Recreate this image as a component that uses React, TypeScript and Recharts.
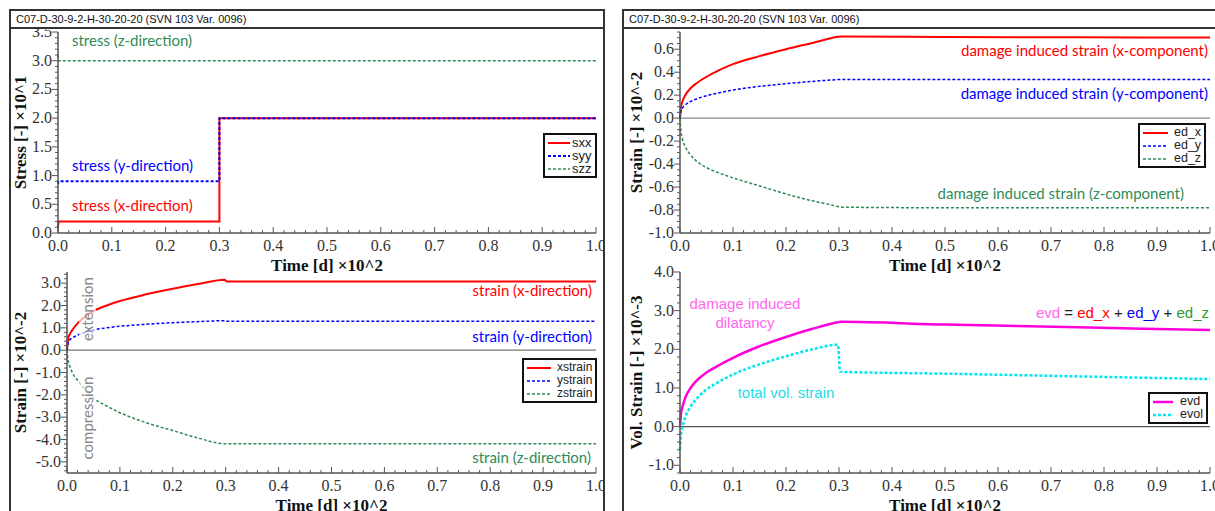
import React from "react";
import { LineChart, Line, XAxis, YAxis, ReferenceLine, Legend } from "recharts";

// time in units of 10^2 d
const stressTime = [0, 0.001, 0.3, 0.3, 1.0];
const sxx = [0.1, 0.2, 0.2, 2.0, 2.0];
const syy = [0.85, 0.9, 0.9, 2.0, 2.0];
const szz = [3.1, 3.0, 3.0, 3.0, 3.0];

const time = [0, 0.002, 0.005, 0.01, 0.02, 0.03, 0.05, 0.075, 0.1, 0.15, 0.2, 0.25, 0.298, 0.302, 0.5, 0.75, 1.0];
const xstrain = [0, 0.5, 0.7, 0.9, 1.2, 1.42, 1.75, 2.0, 2.2, 2.5, 2.75, 2.97, 3.15, 3.08, 3.07, 3.07, 3.07];
const ystrain = [0, 0.3, 0.45, 0.55, 0.67, 0.76, 0.9, 1.0, 1.07, 1.16, 1.23, 1.28, 1.32, 1.3, 1.29, 1.29, 1.29];
const zstrain = [0, -0.45, -0.7, -1.0, -1.35, -1.65, -2.15, -2.5, -2.8, -3.25, -3.6, -3.95, -4.19, -4.19, -4.19, -4.19, -4.19];

const edX = [0, 0.1, 0.15, 0.2, 0.26, 0.3, 0.36, 0.42, 0.47, 0.54, 0.6, 0.655, 0.708, 0.711, 0.707, 0.704, 0.702];
const edY = [0, 0.06, 0.09, 0.115, 0.145, 0.165, 0.195, 0.222, 0.245, 0.277, 0.3, 0.32, 0.336, 0.337, 0.337, 0.337, 0.337];
const edZ = [0, -0.12, -0.19, -0.25, -0.32, -0.37, -0.43, -0.48, -0.52, -0.59, -0.66, -0.72, -0.77, -0.775, -0.78, -0.78, -0.78];

const evd = [0, 0.35, 0.53, 0.75, 1.0, 1.17, 1.4, 1.6, 1.78, 2.08, 2.32, 2.53, 2.7, 2.71, 2.64, 2.57, 2.5];
const evol = [-0.6, -0.2, 0.0, 0.25, 0.52, 0.7, 0.96, 1.17, 1.35, 1.61, 1.82, 2.0, 2.12, 1.42, 1.37, 1.3, 1.23];

const timeTicks = [0, 0.1, 0.2, 0.3, 0.4, 0.5, 0.6, 0.7, 0.8, 0.9, 1.0];
const stressTicks = [0, 0.5, 1.0, 1.5, 2.0, 2.5, 3.0, 3.5];
const strainTicks = [-5, -4, -3, -2, -1, 0, 1, 2, 3];
const damageTicks = [-1.0, -0.8, -0.6, -0.4, -0.2, 0, 0.2, 0.4, 0.6];
const volTicks = [-1, 0, 1, 2, 3, 4];

const TITLE = "C07-D-30-9-2-H-30-20-20 (SVN 103 Var. 0096)";
const SERIF = "'Liberation Serif', 'Times New Roman', serif";
const SANS = "'Liberation Sans', Arial, sans-serif";
const CAL = "Lato, 'Open Sans', sans-serif";

const RED = "#ff0000";
const BLUE = "#0000ff";
const GREEN = "#2e8b57";
const MAGENTA = "#ff00dd";
const CYAN = "#00e6ef";

// minor tick positions between lo and hi
function steps(lo: number, hi: number, step: number) {
  const out: number[] = [];
  const n = Math.round((hi - lo) / step);
  for (let i = 0; i <= n; i++) out.push(+(lo + i * step).toFixed(4));
  return out;
}

const isMajor = (majors: number[], v: number) => majors.some((m) => Math.abs(m - v) < 1e-6);

const makeXTick = (majors: number[]) => (p: any) => {
  const v = p.payload.value;
  const big = isMajor(majors, v);
  return (
    <g>
      <line x1={p.x} x2={p.x} y1={p.y} y2={p.y - (big ? 6 : 3)} stroke="#555" />
      {big && (
        <text x={p.x} y={p.y + 18} textAnchor="middle" fontFamily={SERIF} fontSize={16} fill="#333">
          {v.toFixed(1)}
        </text>
      )}
    </g>
  );
};

const makeYTick = (majors: number[]) => (p: any) => {
  const v = p.payload.value;
  const big = isMajor(majors, v);
  return (
    <g>
      <line x1={p.x - (big ? 6 : 3)} x2={p.x} y1={p.y} y2={p.y} stroke="#555" />
      {big && (
        <text x={p.x - 6} y={p.y + 5} textAnchor="end" fontFamily={SERIF} fontSize={16} fill="#333">
          {v.toFixed(1)}
        </text>
      )}
    </g>
  );
};

const yTitle = (text: string, dx: number) => (p: any) => {
  const vb = p.viewBox;
  const cx = vb.x + dx;
  const cy = vb.y + vb.height / 2;
  return (
    <text x={cx} y={cy} transform={`rotate(-90 ${cx} ${cy})`} textAnchor="middle" dominantBaseline="central"
      fontFamily={SERIF} fontWeight="bold" fontSize={17} fill="#111">
      {text}
    </text>
  );
};

const xTitle = (p: any) => {
  const vb = p.viewBox;
  return (
    <text x={vb.x + vb.width / 2} y={vb.y + 38} textAnchor="middle" fontFamily={SERIF} fontWeight="bold" fontSize={17} fill="#111">
      Time [d] ×10^2
    </text>
  );
};

const legendBox = (lineW: number, textGap: number, fs: number) => (p: any) => (
  <div style={{ border: "2px solid #111", background: "#fff", padding: "1px 3px 1px 3px", fontFamily: SANS, fontSize: fs, lineHeight: "13px", color: "#222" }}>
    {(p.payload || []).map((e: any) => (
      <div key={e.value} style={{ display: "flex", alignItems: "center" }}>
        <svg width={lineW} height={8}>
          <line x1={0} x2={lineW} y1={4} y2={4} stroke={e.color}
            strokeWidth={e.payload?.strokeWidth ?? 1.5} strokeDasharray={e.payload?.strokeDasharray} />
        </svg>
        <span style={{ marginLeft: textGap }}>{e.value}</span>
      </div>
    ))}
  </div>
);

const axisLine = { stroke: "#555", strokeWidth: 1.5 };

const stressData = stressTime.map((t, i) => ({ t, sxx: sxx[i], syy: syy[i], szz: szz[i] }));
const strainData = time.map((t, i) => ({ t, xstrain: xstrain[i], ystrain: ystrain[i], zstrain: zstrain[i] }));
const damageData = time.map((t, i) => ({ t, ed_x: edX[i], ed_y: edY[i], ed_z: edZ[i] }));
const volData = time.map((t, i) => ({ t, evd: evd[i], evol: evol[i] }));

const xTickList = steps(0, 1, 0.02);

function Panel({ left, width }: { left: number; width: number }) {
  return (
    <div style={{ position: "absolute", left, top: 9, width, height: 520, border: "2px solid #333", boxSizing: "border-box" }}>
      <div style={{ height: 16, borderBottom: "2px solid #333", fontFamily: SANS, fontSize: 11, lineHeight: "16px", paddingLeft: 5, color: "#111" }}>
        {TITLE}
      </div>
    </div>
  );
}

function XAx() {
  return (
    <XAxis dataKey="t" type="number" domain={[0, 1]} ticks={xTickList} interval={0} tick={makeXTick(timeTicks)}
      tickSize={0} tickMargin={0} tickLine={false} axisLine={axisLine} height={44} label={xTitle} />
  );
}

type Note = { x: number; y: number; text: React.ReactNode; color: string; anchor?: string; font?: string; size?: number };

const notes: Note[] = [
  { x: 72, y: 46, text: "stress (z-direction)", color: GREEN },
  { x: 72, y: 171, text: "stress (y-direction)", color: BLUE },
  { x: 72, y: 211, text: "stress (x-direction)", color: RED },
  { x: 592, y: 296, text: "strain (x-direction)", color: RED, anchor: "end" },
  { x: 592, y: 342, text: "strain (y-direction)", color: BLUE, anchor: "end" },
  { x: 591, y: 463, text: "strain (z-direction)", color: GREEN, anchor: "end" },
  { x: 1208, y: 56, text: "damage induced strain (x-component)", color: RED, anchor: "end" },
  { x: 1208, y: 99, text: "damage induced strain (y-component)", color: BLUE, anchor: "end" },
  { x: 1184, y: 199, text: "damage induced strain (z-component)", color: GREEN, anchor: "end" },
  { x: 745, y: 309, text: "damage induced", color: "#ff66ee", anchor: "middle", font: SANS },
  { x: 745, y: 328, text: "dilatancy", color: "#ff66ee", anchor: "middle", font: SANS },
  { x: 786, y: 398, text: "total vol. strain", color: "#22dde6", anchor: "middle", font: SANS },
];

function Overlay() {
  return (
    <svg width={1215} height={511} style={{ position: "absolute", left: 0, top: 0, pointerEvents: "none" }}>
      <rect x={79} y={272} width={17} height={74} fill="#fff" opacity={0.65} />
      <rect x={79} y={370} width={17} height={96} fill="#fff" opacity={0.65} />
      <text x={87} y={309} transform="rotate(-90 87 309)" textAnchor="middle" dominantBaseline="central" fontFamily={CAL} fontSize={15} fill="#888">extension</text>
      <text x={87} y={418} transform="rotate(-90 87 418)" textAnchor="middle" dominantBaseline="central" fontFamily={CAL} fontSize={15} fill="#888">compression</text>
      {notes.map((n, i) => (
        <text key={i} x={n.x} y={n.y} textAnchor={n.anchor || "start"} fontFamily={n.font || CAL} fontSize={n.size || 15} fill={n.color}>
          {n.text}
        </text>
      ))}
      <text x={1209} y={318} textAnchor="end" fontFamily={SANS} fontSize={15}>
        <tspan fill="#ff66ee">evd</tspan>
        <tspan fill="#222"> = </tspan>
        <tspan fill={RED}>ed_x</tspan>
        <tspan fill="#222"> + </tspan>
        <tspan fill={BLUE}>ed_y</tspan>
        <tspan fill="#222"> + </tspan>
        <tspan fill="#2e9a2e">ed_z</tspan>
      </text>
    </svg>
  );
}

export default function App() {
  return (
    <div style={{ position: "absolute", left: 0, top: 0, width: 1215, height: 511, overflow: "hidden", background: "#fff" }}>
      <Panel left={9} width={596} />
      <Panel left={622} width={600} />

      {/* left panel: stress */}
      <div style={{ position: "absolute", left: 11, top: 27, width: 593, height: 250, overflow: "hidden" }}>
        <LineChart width={600} height={250} data={stressData} margin={{ top: 5, right: 15, bottom: 0, left: 0 }}>
          {XAx()}
          <YAxis type="number" domain={[0, 3.5]} ticks={steps(0, 3.5, 0.1)} interval={0} tick={makeYTick(stressTicks)}
            tickSize={0} tickMargin={0} tickLine={false} axisLine={axisLine} width={47} label={yTitle("Stress [-] ×10^1", 9)} />
          <Line type="linear" dataKey="sxx" name="sxx" stroke={RED} strokeWidth={2} dot={false} isAnimationActive={false} />
          <Line type="linear" dataKey="syy" name="syy" stroke={BLUE} strokeWidth={2} strokeDasharray="3 2" dot={false} isAnimationActive={false} />
          <Line type="linear" dataKey="szz" name="szz" stroke={GREEN} strokeWidth={1.5} strokeDasharray="3 2" dot={false} isAnimationActive={false} />
          <Legend layout="vertical" align="center" verticalAlign="middle" content={legendBox(22, 2, 13)}
            itemSorter={null as any} wrapperStyle={{ left: 532, top: 106, width: "auto" }} />
        </LineChart>
      </div>

      {/* left panel: strain */}
      <div style={{ position: "absolute", left: 11, top: 262, width: 593, height: 255, overflow: "hidden" }}>
        <LineChart width={600} height={255} data={strainData} margin={{ top: 10, right: 15, bottom: 0, left: 0 }}>
          {XAx()}
          <YAxis type="number" domain={[-5.5, 3.5]} ticks={steps(-5.4, 3.4, 0.2)} interval={0} tick={makeYTick(strainTicks)}
            tickSize={0} tickMargin={0} tickLine={false} axisLine={axisLine} width={56} label={yTitle("Strain [-] ×10^-2", 9)} />
          <ReferenceLine y={0} stroke="#777" strokeWidth={1.2} />
          <Line type="monotone" dataKey="xstrain" name="xstrain" stroke={RED} strokeWidth={2} dot={false} isAnimationActive={false} />
          <Line type="monotone" dataKey="ystrain" name="ystrain" stroke={BLUE} strokeWidth={1.5} strokeDasharray="3 2" dot={false} isAnimationActive={false} />
          <Line type="monotone" dataKey="zstrain" name="zstrain" stroke={GREEN} strokeWidth={1.5} strokeDasharray="3 2" dot={false} isAnimationActive={false} />
          <Legend layout="vertical" align="center" verticalAlign="middle" content={legendBox(24, 6, 12)}
            itemSorter={null as any} wrapperStyle={{ left: 511, top: 96, width: "auto" }} />
        </LineChart>
      </div>

      {/* right panel: damage induced strain */}
      <div style={{ position: "absolute", left: 624, top: 27, width: 600, height: 250, overflow: "hidden" }}>
        <LineChart width={600} height={250} data={damageData} margin={{ top: 5, right: 14, bottom: 0, left: 0 }}>
          {XAx()}
          <YAxis type="number" domain={[-1, 0.75]} ticks={steps(-1, 0.75, 0.05)} interval={0} tick={makeYTick(damageTicks)}
            tickSize={0} tickMargin={0} tickLine={false} axisLine={axisLine} width={56} label={yTitle("Strain [-] ×10^-2", 12)} />
          <ReferenceLine y={0} stroke="#888" strokeWidth={1.2} />
          <Line type="monotone" dataKey="ed_x" name="ed_x" stroke={RED} strokeWidth={2} dot={false} isAnimationActive={false} />
          <Line type="monotone" dataKey="ed_y" name="ed_y" stroke={BLUE} strokeWidth={1.5} strokeDasharray="3 2" dot={false} isAnimationActive={false} />
          <Line type="monotone" dataKey="ed_z" name="ed_z" stroke={GREEN} strokeWidth={1.5} strokeDasharray="3 2" dot={false} isAnimationActive={false} />
          <Legend layout="vertical" align="center" verticalAlign="middle" content={legendBox(25, 6, 12.5)}
            itemSorter={null as any} wrapperStyle={{ left: 514, top: 96, width: "auto" }} />
        </LineChart>
      </div>

      {/* right panel: volumetric strain */}
      <div style={{ position: "absolute", left: 624, top: 262, width: 600, height: 255, overflow: "hidden" }}>
        <LineChart width={600} height={255} data={volData} margin={{ top: 10, right: 14, bottom: 0, left: 0 }}>
          {XAx()}
          <YAxis type="number" domain={[-1.2, 4]} ticks={steps(-1.2, 4, 0.2)} interval={0} tick={makeYTick(volTicks)}
            tickSize={0} tickMargin={0} tickLine={false} axisLine={axisLine} width={56} label={yTitle("Vol. Strain [-] ×10^-3", 12)} />
          <ReferenceLine y={0} stroke="#555" strokeWidth={1.2} />
          <Line type="monotone" dataKey="evd" name="evd" stroke={MAGENTA} strokeWidth={2.5} dot={false} isAnimationActive={false} />
          <Line type="monotone" dataKey="evol" name="evol" stroke={CYAN} strokeWidth={2.5} strokeDasharray="3 2" dot={false} isAnimationActive={false} />
          <Legend layout="vertical" align="center" verticalAlign="middle" content={legendBox(20, 7, 12.5)}
            itemSorter={null as any} wrapperStyle={{ left: 524, top: 130, width: "auto" }} />
        </LineChart>
      </div>

      <Overlay />
    </div>
  );
}
